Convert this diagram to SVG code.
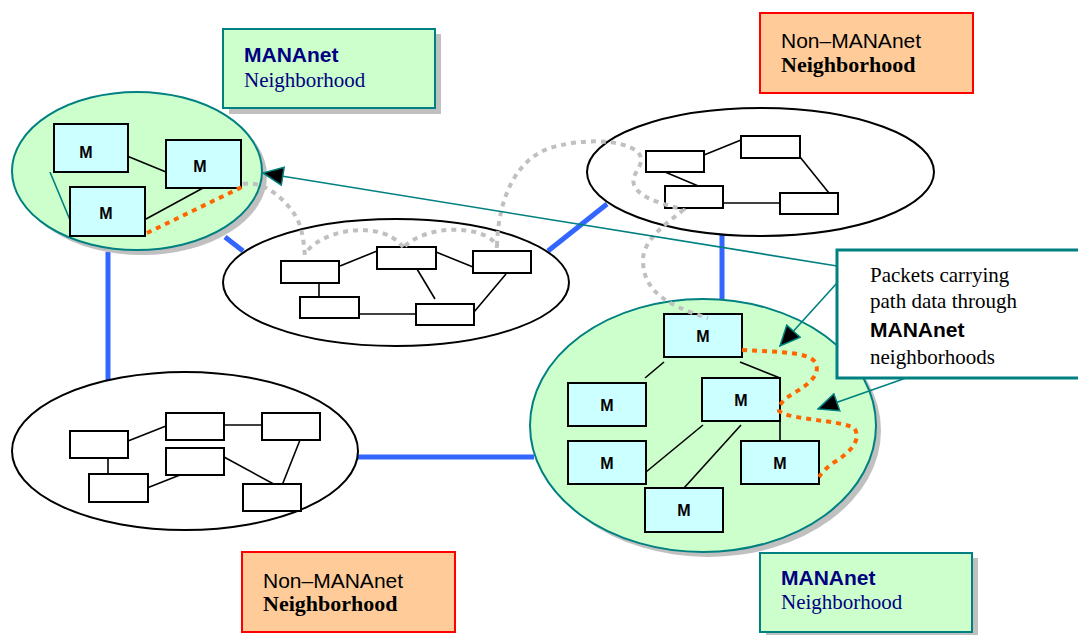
<svg xmlns="http://www.w3.org/2000/svg" width="1078" height="635" viewBox="0 0 1078 635">
<defs>
<style>
.shadow{fill:#c0c0c0;stroke:none}
.green{fill:#ccffcc;stroke:#008080;stroke-width:2}
.hood{fill:#ffffff;stroke:#000;stroke-width:2}
.mbox{fill:#ccffff;stroke:#000;stroke-width:2}
.box{fill:#ffffff;stroke:#000;stroke-width:2}
.ln{stroke:#000;stroke-width:1.6;fill:none}
.blue{stroke:#3366ff;stroke-width:5;fill:none}
.teal{stroke:#008080;stroke-width:1.6;fill:none}
.gray{stroke:#c0c0c0;stroke-width:4;stroke-dasharray:5 5;fill:none}
.orange{stroke:#ff6600;stroke-width:4;stroke-dasharray:5 5;fill:none}
.mt{font-family:"Liberation Sans",Arial,sans-serif;font-weight:bold;font-size:16px;text-anchor:middle;fill:#000}
.sansb{font-family:"Liberation Sans",Arial,sans-serif;font-weight:bold;font-size:21px}
.sans{font-family:"Liberation Sans",Arial,sans-serif;font-size:21px}
.serif{font-family:"Liberation Serif","Times New Roman",serif;font-size:21px}
.serifb{font-family:"Liberation Serif","Times New Roman",serif;font-weight:bold;font-size:22px}
.lgreen{fill:#ccffcc;stroke:#008080;stroke-width:2}
.lorange{fill:#ffcc99;stroke:#ff0000;stroke-width:2}
</style>
<marker id="arr" viewBox="0 0 22 20" refX="21" refY="10" markerWidth="22" markerHeight="20" markerUnits="userSpaceOnUse" orient="auto">
<path d="M1,1 L21,10 L1,19 Z" fill="#000" stroke="#008080" stroke-width="1.5"/>
</marker>
</defs>

<g id="blue-links">
<line class="blue" x1="225" y1="237" x2="243" y2="251"/>
<line class="blue" x1="108" y1="252" x2="108" y2="380"/>
<line class="blue" x1="548" y1="251" x2="607" y2="204"/>
<line class="blue" x1="722" y1="234" x2="722" y2="302"/>
<line class="blue" x1="356" y1="457" x2="534" y2="457"/>
</g>

<g id="hood-topleft">
<ellipse class="shadow" cx="142" cy="176" rx="125" ry="79"/>
<ellipse class="green" cx="137" cy="171" rx="125" ry="79"/>
<line class="teal" x1="50" y1="172" x2="70" y2="220"/>
<line class="ln" x1="127" y1="156" x2="166" y2="172"/>
<line class="ln" x1="203" y1="188" x2="146" y2="219"/>
<rect class="mbox" x="54" y="124" width="74" height="48"/>
<text class="mt" x="86" y="158">M</text>
<rect class="mbox" x="166" y="140" width="75" height="48"/>
<text class="mt" x="200" y="172">M</text>
<rect class="mbox" x="70" y="187" width="75" height="49"/>
<text class="mt" x="106" y="219">M</text>
</g>

<g id="hood-middle">
<ellipse class="hood" cx="396" cy="282.5" rx="173" ry="63.5"/>
<line class="ln" x1="340" y1="266" x2="377" y2="251"/>
<line class="ln" x1="436" y1="252" x2="473" y2="267"/>
<line class="ln" x1="417" y1="269" x2="435" y2="299"/>
<line class="ln" x1="506" y1="274" x2="474" y2="312"/>
<line class="ln" x1="319" y1="283" x2="319" y2="297"/>
<line class="ln" x1="359" y1="314" x2="416" y2="314"/>
<rect class="box" x="281" y="261" width="58" height="22"/>
<rect class="box" x="377" y="247" width="59" height="22"/>
<rect class="box" x="473" y="251" width="58" height="22"/>
<rect class="box" x="300" y="297" width="59" height="21"/>
<rect class="box" x="416" y="304" width="58" height="21"/>
</g>

<g id="hood-topright">
<ellipse class="hood" cx="760.5" cy="172" rx="173.5" ry="64"/>
<line class="ln" x1="704" y1="155" x2="741" y2="140"/>
<line class="ln" x1="665" y1="172" x2="703" y2="188"/>
<line class="ln" x1="723" y1="203" x2="780" y2="203"/>
<line class="ln" x1="800" y1="157" x2="837" y2="203"/>
<rect class="box" x="646" y="151" width="58" height="21"/>
<rect class="box" x="741" y="136" width="59" height="22"/>
<rect class="box" x="665" y="186" width="58" height="22"/>
<rect class="box" x="780" y="193" width="58" height="21"/>
</g>

<g id="hood-bottomleft">
<ellipse class="hood" cx="185" cy="451" rx="173" ry="79"/>
<line class="ln" x1="128" y1="441" x2="166" y2="426"/>
<line class="ln" x1="224" y1="425" x2="262" y2="425"/>
<line class="ln" x1="108" y1="458" x2="108" y2="474"/>
<line class="ln" x1="147" y1="488" x2="185" y2="473"/>
<line class="ln" x1="224" y1="457" x2="281" y2="488"/>
<line class="ln" x1="300" y1="440" x2="281" y2="488"/>
<rect class="box" x="70" y="431" width="58" height="27"/>
<rect class="box" x="166" y="413" width="58" height="27"/>
<rect class="box" x="262" y="413" width="58" height="27"/>
<rect class="box" x="166" y="448" width="58" height="27"/>
<rect class="box" x="89" y="474" width="59" height="28"/>
<rect class="box" x="243" y="484" width="58" height="27"/>
</g>

<g id="hood-bottomright">
<ellipse class="shadow" cx="708" cy="430.5" rx="173" ry="126.5"/>
<ellipse class="green" cx="703" cy="425.5" rx="173" ry="126.5"/>
<line class="ln" x1="664" y1="362" x2="645" y2="378"/>
<line class="ln" x1="740" y1="362" x2="780" y2="378"/>
<line class="ln" x1="703" y1="425" x2="646" y2="472"/>
<line class="ln" x1="741" y1="425" x2="684" y2="488"/>
<line class="ln" x1="780" y1="421" x2="780" y2="441"/>
<rect class="mbox" x="664" y="314" width="78" height="43"/>
<text class="mt" x="703" y="342">M</text>
<rect class="mbox" x="568" y="383" width="78" height="43"/>
<text class="mt" x="607" y="411">M</text>
<rect class="mbox" x="702" y="378" width="78" height="43"/>
<text class="mt" x="741" y="406">M</text>
<rect class="mbox" x="568" y="441" width="78" height="43"/>
<text class="mt" x="607" y="469">M</text>
<rect class="mbox" x="741" y="441" width="78" height="43"/>
<text class="mt" x="780" y="469">M</text>
<rect class="mbox" x="645" y="488" width="78" height="44"/>
<text class="mt" x="684" y="516">M</text>
</g>

<g id="paths">
<path class="gray" d="M243,184 C265,180 285,200 295,215 C303,228 304,245 305,257"/>
<path class="gray" d="M308,250 C325,232 360,225 385,234 C395,238 400,243 404,248"/>
<path class="gray" d="M405,246 C420,232 450,226 475,232 C490,236 496,242 497,248"/>
<path class="gray" d="M497,246 C498,200 515,160 550,148 C580,139 620,138 638,152 C648,165 630,172 634,185 C640,200 670,205 683,210 C665,225 642,240 643,262 C644,290 665,305 708,318"/>
<path class="orange" d="M147,233 L242,187"/>
<path class="orange" d="M742,350 C780,352 808,352 815,362 C822,374 808,385 794,393 C784,399 778,405 779,411 C790,420 840,420 854,428 C862,438 852,452 833,463 C826,468 822,473 819,477"/>
</g>

<g id="connectors">
<line class="teal" x1="837" y1="266" x2="263" y2="173" marker-end="url(#arr)"/>
<line class="teal" x1="837" y1="283" x2="780" y2="346" marker-end="url(#arr)"/>
<line class="teal" x1="906" y1="378" x2="818" y2="409" marker-end="url(#arr)"/>
</g>

<g id="label-topleft">
<rect class="shadow" x="229" y="34" width="212" height="80"/>
<rect class="lgreen" x="223" y="29" width="212" height="79"/>
<text class="sansb" x="244" y="62" fill="#000080">MANAnet</text>
<text class="serif" x="244" y="87" fill="#000080">Neighborhood</text>
</g>

<g id="label-topright">
<rect class="lorange" x="760" y="13" width="213" height="80"/>
<text class="sans" x="781" y="48" fill="#000">Non–MANAnet</text>
<text class="serifb" x="781" y="72" fill="#000">Neighborhood</text>
</g>

<g id="label-bottomleft">
<rect class="lorange" x="242" y="552" width="213" height="80"/>
<text class="sans" x="263" y="588" fill="#000">Non–MANAnet</text>
<text class="serifb" x="263" y="611" fill="#000">Neighborhood</text>
</g>

<g id="label-bottomright">
<rect class="shadow" x="766" y="558" width="212" height="80"/>
<rect class="lgreen" x="760" y="553" width="212" height="79"/>
<text class="sansb" x="781" y="585" fill="#000080">MANAnet</text>
<text class="serif" x="781" y="609" fill="#000080">Neighborhood</text>
</g>

<g id="callout">
<rect x="837" y="250" width="246" height="128" fill="#ffffff" stroke="#008080" stroke-width="3"/>
<text class="serif" x="870" y="282" fill="#000">Packets carrying</text>
<text class="serif" x="870" y="308" fill="#000">path data through</text>
<text class="sansb" x="870" y="337" fill="#000">MANAnet</text>
<text class="serif" x="870" y="364" fill="#000">neighborhoods</text>
</g>
</svg>
